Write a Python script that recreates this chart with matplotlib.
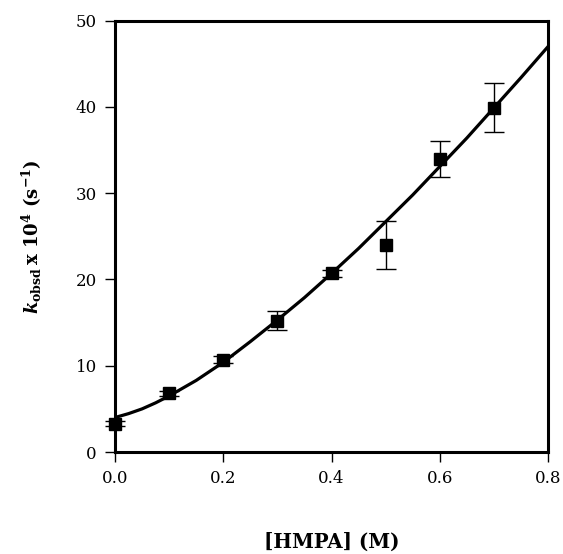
import matplotlib
matplotlib.use("Agg")
import matplotlib.pyplot as plt

# Data
hmpa = [0.0, 0.1, 0.2, 0.3, 0.4, 0.5, 0.6, 0.7]
kobs = [3.3, 6.8, 10.7, 15.2, 20.7, 24.0, 34.0, 39.9]
kerr = [0.3, 0.3, 0.4, 1.1, 0.4, 2.8, 2.1, 2.85]

# Fitted curve
fit_x = [0.0, 0.025, 0.05, 0.075, 0.1, 0.15, 0.2, 0.25, 0.3, 0.35, 0.4,
         0.45, 0.5, 0.55, 0.6, 0.65, 0.7, 0.75, 0.8]
fit_y = [4.0, 4.45, 5.0, 5.7, 6.5, 8.3, 10.4, 12.8, 15.3, 17.9, 20.7,
         23.6, 26.7, 29.8, 33.1, 36.4, 39.9, 43.4, 47.0]

xticks = [0.0, 0.2, 0.4, 0.6, 0.8]
xtick_labels = ["0.0", "0.2", "0.4", "0.6", "0.8"]
yticks = [0, 10, 20, 30, 40, 50]

plt.rcParams['font.family'] = ['DejaVu Serif']
plt.rcParams['mathtext.fontset'] = 'custom'
plt.rcParams['mathtext.rm'] = 'DejaVu Serif:bold'
plt.rcParams['mathtext.it'] = 'DejaVu Serif:italic:bold'
plt.rcParams['mathtext.bf'] = 'DejaVu Serif:bold'

fig = plt.figure(figsize=(5.63, 5.54), dpi=100)
ax = fig.add_axes([0.2043, 0.1841, 0.7691, 0.7785])

ax.plot(fit_x, fit_y, color='black', lw=2.3, zorder=2)
ax.errorbar(hmpa, kobs, yerr=kerr, fmt='s', color='black', ms=8.5,
            ecolor='black', elinewidth=1.0, capsize=7, capthick=1.0, zorder=3,
            clip_on=False)

ax.set_xlim(0, 0.8)
ax.set_ylim(0, 50)
ax.set_xticks(xticks)
ax.set_xticklabels(xtick_labels)
ax.set_yticks(yticks)

for s in ax.spines.values():
    s.set_linewidth(2.2)
ax.tick_params(direction='out', length=7, width=1.0, labelsize=12, pad=6)

ax.set_xlabel('[HMPA] (M)', fontsize=14.2, fontweight='bold', labelpad=32)
ax.set_ylabel(r'$k_{\mathrm{obsd}}\,\mathrm{x\ 10^{4}\ (s^{-1})}$', fontsize=13,
              fontweight='bold', labelpad=23)

fig.savefig('out.png', dpi=100)
